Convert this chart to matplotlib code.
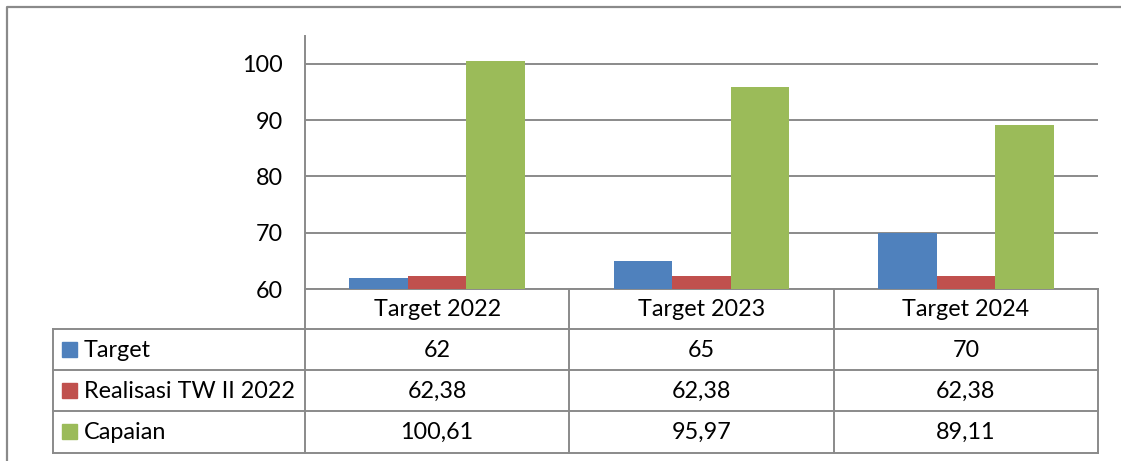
import numpy as np
import matplotlib.pyplot as plt
from matplotlib.patches import Rectangle

plt.rcParams['font.family'] = ['Lato', 'DejaVu Sans']

# Data
categories = ["Target 2022", "Target 2023", "Target 2024"]
series_names = ["Target", "Realisasi TW II 2022", "Capaian"]
target = [62, 65, 70]
realisasi = [62.38, 62.38, 62.38]
capaian = [100.61, 95.97, 89.11]
series_labels = [["62", "65", "70"],
                 ["62,38", "62,38", "62,38"],
                 ["100,61", "95,97", "89,11"]]
colors = ["#4F81BD", "#C0504D", "#9BBB59"]
yticks = [60, 70, 80, 90, 100]

W, H = 1121, 461
fig = plt.figure(figsize=(W / 100, H / 100), dpi=100)

# overlay axes in pixel coordinates for frame and table
ov = fig.add_axes([0, 0, 1, 1], zorder=0)
ov.set_xlim(0, W)
ov.set_ylim(H, 0)
ov.axis('off')

grid_c = "#8a8a8a"
fs = 16.8

# outer frame (right/bottom edges outside the image)
ov.plot([7, 7, W + 5], [H + 5, 7, 7], color="#8a8a8a", lw=1.6, solid_capstyle='butt')

# chart area
x0, x1 = 305, 1098
y_top, y_axis = 36, 289
ax = fig.add_axes([x0 / W, 1 - y_axis / H, (x1 - x0) / W, (y_axis - y_top) / H], zorder=1)
ax.patch.set_alpha(0)
n = len(categories)
xc = np.arange(n) + 0.5
bw = 0.2217
for i, vals in enumerate([target, realisasi, capaian]):
    ax.bar(xc + (i - 1) * bw, np.array(vals) - 60, bottom=60, width=bw,
           color=colors[i], zorder=3)
ax.set_xlim(0, n)
ax.set_ylim(60, 60 + (y_axis - y_top) / 56.25 * 10)
ax.set_yticks(yticks)
ax.set_yticklabels([str(t) for t in yticks], fontsize=fs)
ax.set_xticks([])
ax.tick_params(axis='y', length=0, pad=15.8)
ax.yaxis.grid(True, color=grid_c, lw=1.4)
ax.set_axisbelow(True)
for s in ['top', 'right', 'bottom']:
    ax.spines[s].set_visible(False)
ax.spines['left'].set_color(grid_c)
ax.spines['left'].set_linewidth(1.4)

# data table
tl = 53
col_edges = np.linspace(x0, x1, n + 1)
row_edges = [289, 328.5, 369.5, 411, 452.5]
lw = 1.4
for xe in col_edges[1:]:
    ov.plot([xe, xe], [row_edges[0], row_edges[-1]], color=grid_c, lw=lw)
ov.plot([x0, x0], [row_edges[0], row_edges[-1]], color=grid_c, lw=lw)
ov.plot([tl, tl], [row_edges[1], row_edges[-1]], color=grid_c, lw=lw)
for ye in row_edges[1:]:
    ov.plot([tl, x1], [ye, ye], color=grid_c, lw=lw)
ov.plot([x0, x1], [row_edges[0], row_edges[0]], color=grid_c, lw=lw)

for j, cat in enumerate(categories):
    cx = (col_edges[j] + col_edges[j + 1]) / 2
    ov.text(cx, (row_edges[0] + row_edges[1]) / 2 + 1, cat, ha='center', va='center', fontsize=fs)

for i, name in enumerate(series_names):
    cy = (row_edges[i + 1] + row_edges[i + 2]) / 2
    ov.add_patch(Rectangle((62, cy - 7.5), 15, 15, color=colors[i]))
    ov.text(84, cy + 1, name, ha='left', va='center', fontsize=fs)
    for j in range(n):
        cx = (col_edges[j] + col_edges[j + 1]) / 2
        ov.text(cx, cy + 1, series_labels[i][j], ha='center', va='center', fontsize=fs)

fig.savefig("out.png", dpi=100)
